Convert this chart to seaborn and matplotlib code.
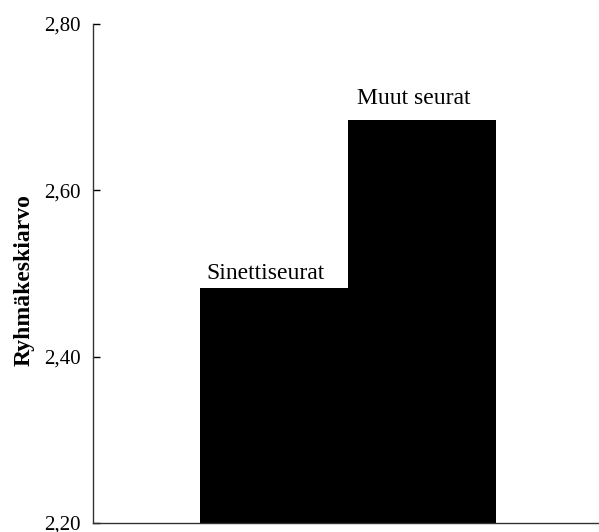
import matplotlib
matplotlib.use("Agg")
import matplotlib.pyplot as plt
import seaborn as sns
import pandas as pd

# Data
groups = ["Sinettiseurat", "Muut seurat"]
means = [2.483, 2.684]
y_ticks = [2.20, 2.40, 2.60, 2.80]
y_tick_labels = ["2,20", "2,40", "2,60", "2,80"]

df = pd.DataFrame({"group": groups, "mean": means})

sns.set_style("white")
plt.rcParams["font.family"] = ["Liberation Serif", "DejaVu Serif"]
plt.rcParams["text.color"] = "black"
plt.rcParams["axes.labelcolor"] = "black"

fig = plt.figure(figsize=(5.99, 5.32), dpi=100)
ax = fig.add_axes([0.1553, 0.0169, 0.8430, 0.9381])

sns.barplot(data=df, x="group", y="mean", color="black", width=1.0,
            saturation=1, linewidth=0, ax=ax)
ax.set_ylim(2.20, 2.80)
ax.set_xlim(-1.223, 2.19)

# group names above bars
label_raise = [6, 11.5]
for i, (g, m) in enumerate(zip(groups, means)):
    ax.annotate(g, (i, m), xytext=(-6, label_raise[i]), textcoords="offset points",
                ha="center", va="baseline", fontsize=17, color="black")

ax.set_yticks(y_ticks)
ax.set_yticklabels(y_tick_labels, fontsize=15)
ax.set_xticks([])
ax.set_xlabel("")
ax.set_ylabel("Ryhmäkeskiarvo", fontsize=17, fontweight="bold", color="black")
ax.yaxis.set_label_coords(-0.115, 0.487)
ax.tick_params(axis="y", direction="in", length=5, width=1, left=True,
               pad=9, colors="black")

for side in ["top", "right"]:
    ax.spines[side].set_visible(False)
for side in ["left", "bottom"]:
    ax.spines[side].set_color("#333333")
    ax.spines[side].set_linewidth(1)

fig.savefig("out.png", dpi=100)
